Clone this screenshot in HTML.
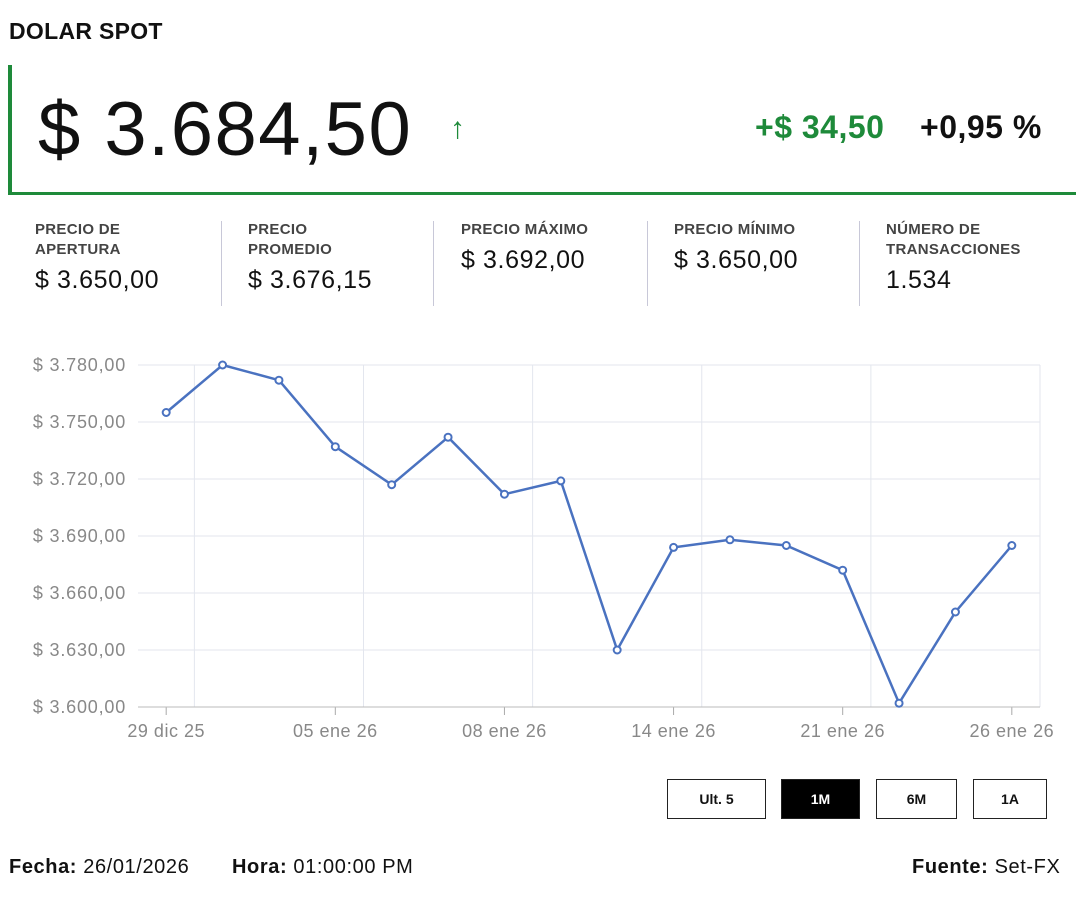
<!DOCTYPE html>
<html><head><meta charset="utf-8"><style>
body{margin:0;width:1080px;height:900px;background:#fff;font-family:"Liberation Sans",sans-serif;color:#111;position:relative;overflow:hidden}
.abs{position:absolute}
.lbl{font-size:15px;font-weight:bold;color:#444;line-height:20px;letter-spacing:0.3px}
.val{font-size:25px;color:#111;letter-spacing:0.6px}
.sep{position:absolute;top:221px;width:1px;height:85px;background:#c8c8d8}
.btn{position:absolute;top:779px;height:40px;border:1.5px solid #222;box-sizing:border-box;font-size:14px;font-weight:bold;display:flex;align-items:center;justify-content:center;background:#fff}
.ft{position:absolute;top:856px;font-size:20px;letter-spacing:0.6px}
</style></head><body>
<div class="abs" style="left:9px;top:18px;font-size:23px;font-weight:bold;letter-spacing:0.3px">DOLAR SPOT</div>
<div class="abs" style="left:8px;top:65px;width:1064px;height:127px;border-left:4px solid #1e8a3a;border-bottom:3px solid #1e8a3a"></div>
<div class="abs" style="left:38px;top:86px;font-size:76px;letter-spacing:1.5px">$ 3.684,50</div>
<div class="abs" style="left:450px;top:112px;font-size:30px;font-weight:bold;color:#1e8a3a">↑</div>
<div class="abs" style="left:755px;top:109px;font-size:32px;font-weight:bold;color:#1e8a3a;letter-spacing:0.5px">+$ 34,50</div>
<div class="abs" style="left:920px;top:109px;font-size:32px;font-weight:bold;letter-spacing:0.5px">+0,95 %</div>

<div class="abs" style="left:35px;top:220px"><div class="lbl">PRECIO DE<br>APERTURA</div><div class="val" style="margin-top:6px">$ 3.650,00</div></div>
<div class="sep" style="left:221px"></div>
<div class="abs" style="left:248px;top:220px"><div class="lbl">PRECIO<br>PROMEDIO</div><div class="val" style="margin-top:6px">$ 3.676,15</div></div>
<div class="sep" style="left:433px"></div>
<div class="abs" style="left:461px;top:220px"><div class="lbl">PRECIO MÁXIMO</div><div class="val" style="margin-top:6px">$ 3.692,00</div></div>
<div class="sep" style="left:647px"></div>
<div class="abs" style="left:674px;top:220px"><div class="lbl">PRECIO MÍNIMO</div><div class="val" style="margin-top:6px">$ 3.650,00</div></div>
<div class="sep" style="left:859px"></div>
<div class="abs" style="left:886px;top:220px"><div class="lbl">NÚMERO DE<br>TRANSACCIONES</div><div class="val" style="margin-top:6px">1.534</div></div>

<svg class="abs" style="left:0;top:0" width="1080" height="900" id="chart"></svg>

<div class="btn" style="left:667px;width:99px">Ult. 5</div>
<div class="btn" style="left:781px;width:79px;background:#000;color:#fff">1M</div>
<div class="btn" style="left:876px;width:81px">6M</div>
<div class="btn" style="left:973px;width:74px">1A</div>

<div class="ft" style="left:9px"><b>Fecha:</b> 26/01/2026</div>
<div class="ft" style="left:232px"><b>Hora:</b> 01:00:00 PM</div>
<div class="ft" style="left:912px"><b>Fuente:</b> Set-FX</div>

<script>
const values=[3755,3780,3772,3737,3717,3742,3712,3719,3630,3684,3688,3685,3672,3602,3650,3685];
const yTicks=[3600,3630,3660,3690,3720,3750,3780];
const yTickLabels=["$ 3.600,00","$ 3.630,00","$ 3.660,00","$ 3.690,00","$ 3.720,00","$ 3.750,00","$ 3.780,00"];
const xTickIdx=[0,3,6,9,12,15];
const xTickLabels=["29 dic 25","05 ene 26","08 ene 26","14 ene 26","21 ene 26","26 ene 26"];
const NS="http://www.w3.org/2000/svg",svg=document.getElementById('chart');
const L=138,R=1040,T=365,B=707,n=values.length,yMin=3600,yMax=3780;
const xs=i=>L+(i+0.5)*(R-L)/n;
const ys=v=>B-(v-yMin)/(yMax-yMin)*(B-T);
function mk(t,a){const e=document.createElementNS(NS,t);for(const k in a)e.setAttribute(k,a[k]);svg.appendChild(e);return e;}
yTicks.forEach((v,i)=>{
 const g=mk('line',{x1:L,x2:R,y1:ys(v),y2:ys(v),stroke:'#e3e6ee','stroke-width':1});
 
 const t=mk('text',{x:126,y:ys(v)+6,'text-anchor':'end','font-size':18,'letter-spacing':0.8,fill:'#888','font-family':'Liberation Sans, sans-serif'});
 t.textContent=yTickLabels[i];
 
});
xTickIdx.forEach((idx,i)=>{
 const x=xs(idx)+(R-L)/n/2;
 if(x<R-1){const g=mk('line',{x1:x,x2:x,y1:T,y2:B,stroke:'#e3e6ee'});
 }
 const tk=mk('line',{x1:xs(idx),x2:xs(idx),y1:B,y2:B+8,stroke:'#aaa'});
 
 const t=mk('text',{x:xs(idx),y:737,'text-anchor':'middle','font-size':18,'letter-spacing':0.5,fill:'#888','font-family':'Liberation Sans, sans-serif'});
 t.textContent=xTickLabels[i];
 
});
const rb=mk('line',{x1:R,x2:R,y1:T,y2:B,stroke:'#e3e6ee'});

const ax=mk('line',{x1:L,x2:R,y1:B,y2:B,stroke:'#bbb'});

const pl=mk('polyline',{points:values.map((v,i)=>xs(i)+','+ys(v)).join(' '),fill:'none',stroke:'#4a72c0','stroke-width':2.5});

values.forEach((v,i)=>{
 const c=mk('circle',{cx:xs(i),cy:ys(v),r:3.5,fill:'#fff',stroke:'#4a72c0','stroke-width':2});
 
});
</script>
</body></html>
